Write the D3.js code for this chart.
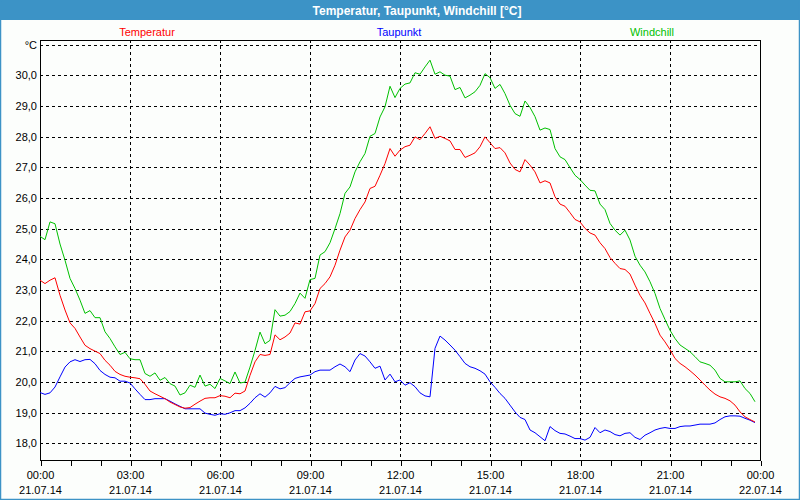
<!DOCTYPE html>
<html><head><meta charset="utf-8">
<script src="https://cdn.jsdelivr.net/npm/d3@7/dist/d3.min.js"></script>
<style>
html,body{margin:0;padding:0;background:#fcfefc;}
svg{display:block;font-family:"Liberation Sans",Arial,sans-serif;}
</style></head>
<body>
<svg id="chart" width="800" height="500"></svg>
<script>
const title = "Temperatur, Taupunkt, Windchill [°C]";
const seriesNames = ["Temperatur", "Taupunkt", "Windchill"];
const seriesColors = ["#ff0000", "#0000ff", "#00c000"];
const stepMinutes = 10;

const temperatur = [23.32,23.21,23.32,23.4,22.83,22.35,21.93,21.75,21.47,21.2,21.09,21.01,20.93,20.71,20.55,20.35,20.25,20.19,20.16,20.14,
20.11,19.93,19.71,19.62,19.54,19.46,19.35,19.27,19.19,19.15,19.17,19.28,19.38,19.47,19.49,19.49,19.56,19.54,19.49,19.64,
19.62,19.71,20.22,20.66,20.9,20.87,20.9,21.54,21.38,21.47,21.6,21.93,21.89,22.29,22.32,22.56,23.05,23.21,23.43,23.81,
24.3,24.73,24.95,25.33,25.62,25.87,26.31,26.38,26.74,27.12,27.61,27.36,27.56,27.67,27.72,27.99,27.9,28.1,28.32,27.94,
28.01,27.94,27.86,27.58,27.58,27.32,27.39,27.47,27.67,27.99,27.8,27.61,27.64,27.47,27.14,26.93,26.85,27.25,27.07,26.85,
26.49,26.56,26.49,26.04,25.8,25.73,25.52,25.3,25.22,25.01,24.86,24.79,24.54,24.35,24.06,23.87,23.7,23.67,23.52,23.16,
22.83,22.58,22.24,21.91,21.53,21.31,21.06,20.77,20.61,20.5,20.37,20.23,20.07,19.9,19.74,19.61,19.52,19.47,19.39,19.25,
19.03,18.87,18.78,18.7];

const taupunkt = [19.66,19.6,19.65,19.84,20.17,20.49,20.66,20.73,20.67,20.73,20.74,20.6,20.38,20.25,20.16,20.14,20.03,20.03,19.97,19.78,
19.6,19.43,19.43,19.46,19.46,19.46,19.38,19.29,19.21,19.13,19.13,19.13,19.13,18.99,18.95,18.92,18.97,18.95,19.0,19.07,
19.07,19.16,19.31,19.49,19.62,19.51,19.65,19.86,19.78,19.82,19.98,20.12,20.17,20.2,20.23,20.34,20.39,20.39,20.39,20.5,
20.59,20.5,20.34,20.72,20.93,20.85,20.66,20.45,20.52,20.07,20.26,20.01,20.07,19.9,19.98,19.85,19.65,19.55,19.52,21.1,
21.5,21.37,21.21,21.04,20.83,20.61,20.5,20.45,20.37,20.26,20.01,19.83,19.63,19.47,19.25,19.03,18.85,18.78,18.44,18.35,
18.22,18.09,18.55,18.42,18.33,18.31,18.24,18.16,18.16,18.11,18.2,18.52,18.35,18.44,18.39,18.29,18.25,18.33,18.35,18.2,
18.13,18.27,18.35,18.44,18.49,18.52,18.49,18.49,18.55,18.57,18.57,18.6,18.63,18.63,18.63,18.67,18.78,18.87,18.9,18.9,
18.89,18.82,18.76,18.68];

const windchill = [24.75,24.64,25.22,25.16,24.5,23.97,23.38,23.05,22.67,22.24,22.33,22.1,22.1,21.64,21.42,21.15,20.9,20.97,20.76,20.73,
20.73,20.28,20.19,20.3,20.06,20.15,19.95,19.87,19.58,19.65,19.9,19.83,20.23,19.87,19.93,19.79,20.12,20.04,19.95,20.33,
19.97,20.0,20.49,21.03,21.63,21.25,21.36,22.36,22.15,22.18,22.3,22.56,22.9,22.73,23.34,23.38,24.14,24.25,24.54,25.0,
25.49,26.15,26.36,26.85,27.18,27.45,28.01,28.1,28.64,28.97,29.64,29.27,29.57,29.71,29.75,30.08,30.03,30.27,30.49,30.03,
30.11,30.0,29.97,29.53,29.6,29.26,29.35,29.46,29.67,30.05,29.92,29.57,29.7,29.4,29.02,28.75,28.66,29.16,28.95,28.65,
28.21,28.28,28.23,27.61,27.34,27.25,26.99,26.74,26.6,26.42,26.25,26.23,25.8,25.62,25.17,24.95,24.79,24.95,24.63,24.1,
23.81,23.59,23.27,22.89,22.4,22.04,21.69,21.42,21.21,21.1,20.99,20.83,20.66,20.61,20.55,20.39,20.12,20.01,20.01,20.01,
20.04,19.79,19.63,19.36];

const xTickHours = [0,3,6,9,12,15,18,21,24];
const xTickTimes = ["00:00","03:00","06:00","09:00","12:00","15:00","18:00","21:00","00:00"];
const xTickDates = ["21.07.14","21.07.14","21.07.14","21.07.14","21.07.14","21.07.14","21.07.14","21.07.14","22.07.14"];
const yTicks = [18,19,20,21,22,23,24,25,26,27,28,29,30];
const yUnitTick = 31;

const W = 800, H = 500;
const L = 40, R = 760.5, T = 40, B = 460;
const svg = d3.select("#chart");

// frame / title bar
svg.append("rect").attr("x",0).attr("y",0).attr("width",W).attr("height",H).attr("fill","#fcfefc");
svg.append("rect").attr("x",0).attr("y",0).attr("width",W).attr("height",20).attr("fill","#3c93c6");
svg.append("rect").attr("x",0.5).attr("y",0.5).attr("width",W-1).attr("height",H-1)
  .attr("fill","none").attr("stroke","#3c93c6").attr("stroke-width",1.5);
svg.append("text").attr("x",417).attr("y",14.5).attr("text-anchor","middle")
  .attr("fill","#ffffff").attr("font-weight","bold").attr("font-size","12px").text(title);

const x = d3.scaleLinear().domain([0,24]).range([L, 760]);
const y = d3.scaleLinear().domain([17.462, 31.147]).range([B, T]);
const snap = v => Math.round(v) + 0.5;

// legend
const legendX = [147, 399, 652];
svg.selectAll("text.leg").data(seriesNames).join("text").attr("class","leg")
  .attr("x",(d,i)=>legendX[i]).attr("y",36).attr("text-anchor","middle")
  .attr("font-size","11px").attr("fill",(d,i)=>seriesColors[i]).text(d=>d);

// grid
const g = svg.append("g");
g.selectAll("line.hg").data(yTicks.concat([yUnitTick])).join("line").attr("class","hg")
  .attr("x1",L).attr("x2",R).attr("y1",d=>snap(y(d))).attr("y2",d=>snap(y(d)))
  .attr("stroke","#000").attr("stroke-dasharray","3,3").attr("shape-rendering","crispEdges");
g.selectAll("line.vg").data(xTickHours.slice(1,-1)).join("line").attr("class","vg")
  .attr("y1",T).attr("y2",B).attr("x1",d=>snap(x(d))).attr("x2",d=>snap(x(d)))
  .attr("stroke","#000").attr("stroke-dasharray","3,3").attr("shape-rendering","crispEdges");

// plot border
svg.append("rect").attr("x",L+0.5).attr("y",T+0.5).attr("width",R-L-0.5).attr("height",B-T)
  .attr("fill","none").attr("stroke","#000").attr("stroke-width",1).attr("shape-rendering","crispEdges");

// x axis ticks (hourly)
const xAxis = d3.axisBottom(x).tickValues(d3.range(0,25)).tickSize(5).tickFormat("");
const xg = svg.append("g").attr("transform",`translate(0.5,${B+0.5})`).call(xAxis);
xg.select(".domain").remove();
xg.selectAll("line").attr("stroke","#000").attr("shape-rendering","crispEdges");

// x labels
svg.selectAll("text.xt").data(xTickHours).join("text").attr("class","xt")
  .attr("x",d=>x(d)+0.5).attr("y",479).attr("text-anchor","middle").attr("font-size","11px")
  .attr("fill","#000").text((d,i)=>xTickTimes[i]);
svg.selectAll("text.xd").data(xTickHours).join("text").attr("class","xd")
  .attr("x",d=>x(d)+0.5).attr("y",494).attr("text-anchor","middle").attr("font-size","11px")
  .attr("fill","#000").text((d,i)=>xTickDates[i]);

// y labels
svg.selectAll("text.yt").data(yTicks).join("text").attr("class","yt")
  .attr("x",37).attr("y",d=>y(d)+4).attr("text-anchor","end").attr("font-size","11px")
  .attr("fill","#000").text(d=>d3.format(".1f")(d).replace(".",","));
svg.append("text").attr("x",37).attr("y",y(yUnitTick)+4).attr("text-anchor","end")
  .attr("font-size","11px").attr("fill","#000").text("°C");

// lines
const series = [temperatur, taupunkt, windchill];
const line = d3.line().x((d,i)=>x(i*stepMinutes/60)).y(d=>y(d));
const lg = svg.append("g");
[1,2,0].forEach(si=>{
  lg.append("path").datum(series[si]).attr("d",line).attr("fill","none")
    .attr("stroke",seriesColors[si]).attr("stroke-width",1);
});
</script>
</body></html>
